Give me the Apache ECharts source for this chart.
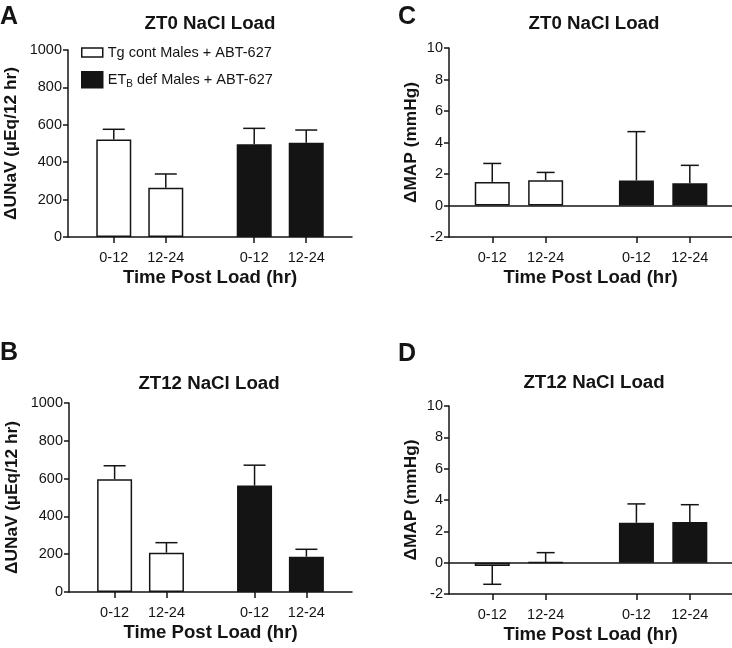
<!DOCTYPE html>
<html>
<head>
<meta charset="utf-8">
<script src="https://cdn.jsdelivr.net/npm/echarts@6/dist/echarts.min.js"></script>
<style>
html,body{margin:0;padding:0;background:#fff;}
#chart{width:732px;height:648px;}
</style>
</head>
<body>
<div id="chart"></div>
<script>
// ---- data ----
const categories = ['0-12', '12-24', '0-12', '12-24'];
const groupNames = ['Tg cont Males + ABT-627', 'ETB def Males + ABT-627'];
const panelLetters = ['A', 'B', 'C', 'D'];
const panelTitles = ['ZT0 NaCl Load', 'ZT12 NaCl Load', 'ZT0 NaCl Load', 'ZT12 NaCl Load'];
const yNames = ['\u0394UNaV (\u00b5Eq/12 hr)', '\u0394UNaV (\u00b5Eq/12 hr)', '\u0394MAP (mmHg)', '\u0394MAP (mmHg)'];
const xName = 'Time Post Load (hr)';

// values: [Tg 0-12, Tg 12-24, ETB 0-12, ETB 12-24]
const unavZT0 = [522, 264, 496, 504];
const unavZT0Sem = [54, 73, 85, 68];
const unavZT12 = [597, 208, 563, 187];
const unavZT12Sem = [71, 53, 108, 39];
const mapZT0 = [1.50, 1.61, 1.59, 1.42];
const mapZT0Sem = [1.17, 0.49, 3.10, 1.13];
const mapZT12 = [-0.21, 0.02, 2.55, 2.60];
const mapZT12Sem = [1.17, 0.62, 1.20, 1.10];

const unavAxis = { min: 0, max: 1000, interval: 200 };
const mapAxis = { min: -2, max: 10, interval: 2 };

// ---- layout ----
const xSlots = [1, 2, 3.7, 4.7];
const FONT = '"Liberation Sans", Arial, Helvetica, sans-serif';
const INK = '#141414';
const panels = [
  { means: unavZT0, sems: unavZT0Sem, axis: unavAxis, grid: { left: 68, top: 50, width: 284, height: 187 }, xmin: 0.12, xmax: 5.58, cap: 22, yGap: 48, title: [210, 14], letter: [0, 5], zero: false },
  { means: unavZT12, sems: unavZT12Sem, axis: unavAxis, grid: { left: 69, top: 403, width: 283, height: 189 }, xmin: 0.12, xmax: 5.58, cap: 22, yGap: 48, title: [209, 374.5], letter: [0, 341], zero: false },
  { means: mapZT0, sems: mapZT0Sem, axis: mapAxis, grid: { left: 449, top: 48, width: 283, height: 189 }, xmin: 0.19, xmax: 5.49, cap: 18, yGap: 29, title: [594, 14], letter: [398, 5], zero: true },
  { means: mapZT12, sems: mapZT12Sem, axis: mapAxis, grid: { left: 449, top: 406, width: 283, height: 188 }, xmin: 0.19, xmax: 5.49, cap: 18, yGap: 29, title: [594, 373.5], letter: [398, 342], zero: true }
];

const grids = [], xAxes = [], yAxes = [], series = [], titles = [];

function slotLabel(v) {
  for (let i = 0; i < xSlots.length; i++) if (Math.abs(xSlots[i] - v) < 1e-6) return categories[i];
  return '';
}

panels.forEach((p, i) => {
  grids.push(Object.assign({ containLabel: false }, p.grid));
  xAxes.push({
    type: 'value', gridIndex: i, min: p.xmin, max: p.xmax,
    axisLine: { show: true, onZero: false, lineStyle: { color: INK, width: 1.5 } },
    splitLine: { show: false },
    axisTick: { show: true, customValues: xSlots, length: 6, lineStyle: { color: INK, width: 1.5 } },
    axisLabel: { customValues: xSlots, formatter: slotLabel, fontFamily: FONT, fontSize: 14.5, color: INK, margin: 13 },
    name: xName, nameLocation: 'middle', nameGap: 31,
    nameTextStyle: { fontFamily: FONT, fontSize: 18.6, fontWeight: 'bold', color: INK }
  });
  yAxes.push({
    type: 'value', gridIndex: i, min: p.axis.min, max: p.axis.max, interval: p.axis.interval,
    axisLine: { show: true, onZero: false, lineStyle: { color: INK, width: 1.5 } },
    splitLine: { show: false },
    axisTick: { show: true, length: 5, lineStyle: { color: INK, width: 1.5 } },
    axisLabel: { fontFamily: FONT, fontSize: 14.5, color: INK, margin: 6, formatter: v => String(v) },
    name: yNames[i], nameLocation: 'middle', nameGap: p.yGap,
    nameTextStyle: { fontFamily: FONT, fontSize: 17.3, fontWeight: 'bold', color: INK }
  });
  const tgData = [[xSlots[0], p.means[0]], [xSlots[1], p.means[1]]];
  const etData = [[xSlots[2], p.means[2]], [xSlots[3], p.means[3]]];
  const errData = p.means.map((m, k) => {
    const dir = m >= 0 ? 1 : -1;
    return [xSlots[k], m, m + dir * p.sems[k]];
  });
  series.push({
    type: 'custom', name: 'err' + i, xAxisIndex: i, yAxisIndex: i, z: 1,
    encode: { x: 0, y: [1, 2] },
    renderItem: (params, api) => {
      const x = api.value(0), m = api.value(1), e = api.value(2);
      const p0 = api.coord([x, m]), p1 = api.coord([x, e]);
      const cw = p.cap;
      return {
        type: 'group', children: [
          { type: 'line', shape: { x1: p0[0], y1: p0[1], x2: p1[0], y2: p1[1] }, style: { stroke: INK, lineWidth: 1.5 } },
          { type: 'line', shape: { x1: p1[0] - cw / 2, y1: p1[1], x2: p1[0] + cw / 2, y2: p1[1] }, style: { stroke: INK, lineWidth: 1.5 } }
        ]
      };
    },
    data: errData, silent: true
  });
  const tgSeries = {
    type: 'bar', name: groupNames[0], xAxisIndex: i, yAxisIndex: i, z: 2,
    barWidth: 35, barGap: '-100%',
    itemStyle: { color: '#ffffff', borderColor: INK, borderWidth: 1.5 },
    data: tgData, silent: true
  };
  if (p.zero) {
    tgSeries.markLine = {
      silent: true, symbol: 'none', label: { show: false },
      lineStyle: { color: INK, width: 1.5, type: 'solid' },
      data: [{ yAxis: 0 }]
    };
  }
  series.push(tgSeries);
  series.push({
    type: 'bar', name: groupNames[1], xAxisIndex: i, yAxisIndex: i, z: 2,
    barWidth: 35, barGap: '-100%',
    itemStyle: { color: INK, borderColor: INK, borderWidth: 1.5 },
    data: etData, silent: true
  });
  titles.push({
    text: panelTitles[i], left: p.title[0], top: p.title[1], textAlign: 'center', padding: 0,
    textStyle: { fontFamily: FONT, fontSize: 18.7, fontWeight: 'bold', color: INK }
  });
  titles.push({
    text: panelLetters[i], left: p.letter[0], top: p.letter[1], padding: 0,
    textStyle: { fontFamily: FONT, fontSize: 25, fontWeight: 'bold', color: INK }
  });
});

const option = {
  backgroundColor: '#ffffff',
  animation: false,
  title: titles,
  legend: [
    {
      data: [groupNames[0]], left: 81, top: 45, padding: 0, itemWidth: 21, itemHeight: 9, icon: 'rect',
      selectedMode: false,
      itemStyle: { color: '#ffffff', borderColor: INK, borderWidth: 1.5 },
      textStyle: { fontFamily: FONT, fontSize: 14.5, color: INK }
    },
    {
      data: [groupNames[1]], left: 81, top: 71, padding: 0, itemWidth: 21, itemHeight: 16, icon: 'rect',
      selectedMode: false,
      itemStyle: { color: INK, borderColor: INK, borderWidth: 1.5 },
      formatter: () => '{a|ET}{sub|B}{a| def Males + ABT-627}',
      textStyle: {
        fontFamily: FONT, fontSize: 14.5, color: INK,
        rich: {
          a: { fontFamily: FONT, fontSize: 14.5, color: INK },
          sub: { fontFamily: FONT, fontSize: 10, color: INK, padding: [8, 0, 0, 0] }
        }
      }
    }
  ],
  grid: grids,
  xAxis: xAxes,
  yAxis: yAxes,
  series: series
};

const chart = echarts.init(document.getElementById('chart'), null, { renderer: 'canvas' });
chart.setOption(option);
</script>
</body>
</html>
